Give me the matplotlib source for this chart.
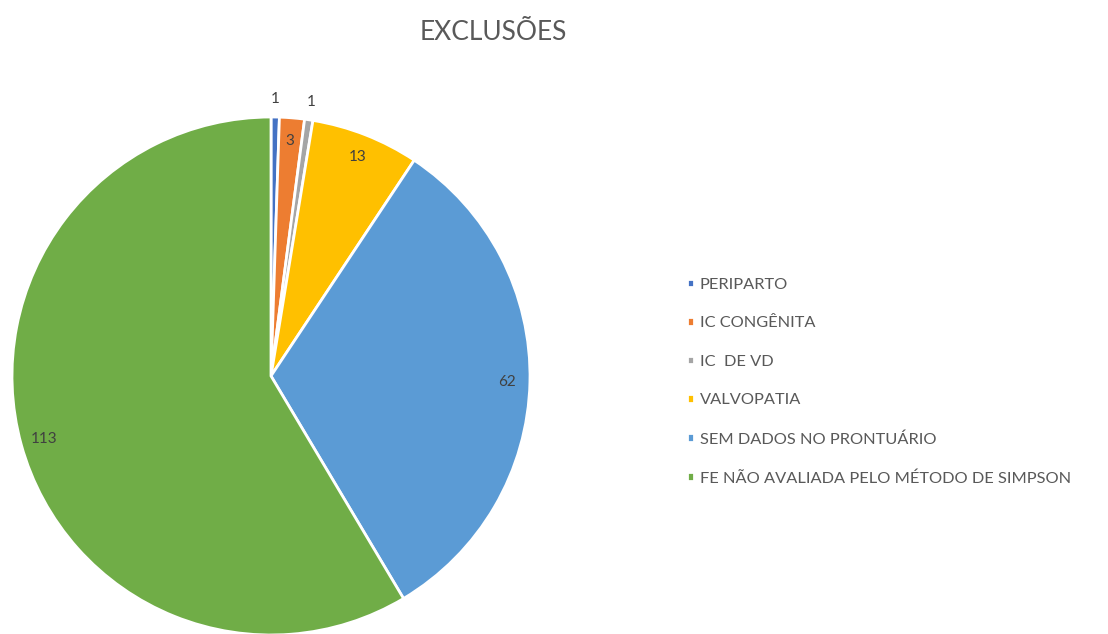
import matplotlib.pyplot as plt
import numpy as np

# data
labels = ["PERIPARTO", "IC CONGÊNITA", "IC  DE VD", "VALVOPATIA",
          "SEM DADOS NO PRONTUÁRIO", "FE NÃO AVALIADA PELO MÉTODO DE SIMPSON"]
values = [1, 3, 1, 13, 62, 113]
colors = ["#4472C4", "#ED7D31", "#A5A5A5", "#FFC000", "#5B9BD5", "#70AD47"]
label_dist = [1.07, 0.91, 1.07, 0.91, 0.91, 0.91]

plt.rcParams['font.family'] = ['Lato', 'DejaVu Sans']

fig = plt.figure(figsize=(11.08, 6.34), dpi=100)
ax = fig.add_axes([12/1108, -1/634, 518/1108, 518/634])
wedges, _ = ax.pie(values, colors=colors, startangle=90, counterclock=False,
                   radius=1, wedgeprops=dict(edgecolor='white', linewidth=2))
ax.set_xlim(-1, 1)
ax.set_ylim(-1, 1)
ax.axis('off')

# data labels
for w, v, d in zip(wedges, values, label_dist):
    mid = np.deg2rad((w.theta1 + w.theta2) / 2)
    ax.text(d*np.cos(mid), d*np.sin(mid), str(v), ha='center', va='center',
            fontsize=11, color='#404040')

fig.text(493/1108, 1 - 32/634, "EXCLUSÕES", ha='center', va='center',
         fontsize=19, color='#595959')

leg = fig.legend(wedges, labels, loc='upper left', bbox_to_anchor=(672/1108, 1 - 263/634),
                 frameon=False, fontsize=11.8, handlelength=0.45, handleheight=0.45,
                 handletextpad=0.35, labelspacing=1.5, labelcolor='#595959')

fig.savefig("out.png", dpi=100)
